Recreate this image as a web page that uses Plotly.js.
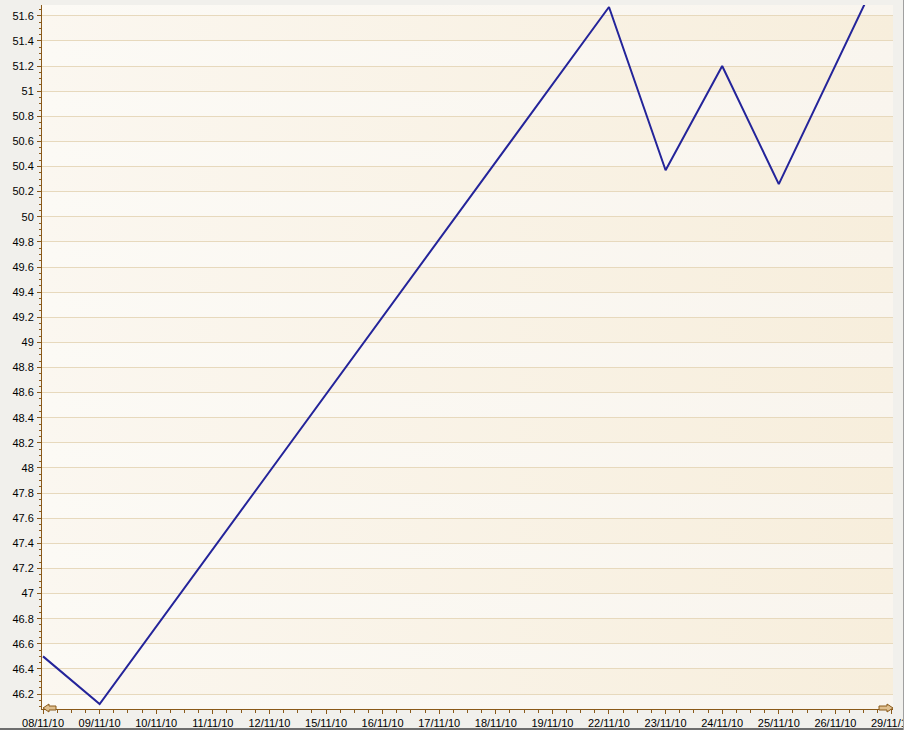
<!DOCTYPE html>
<html>
<head>
<meta charset="utf-8">
<script src="https://cdn.plot.ly/plotly-3.0.1.min.js"></script>
<style>html,body{margin:0;padding:0;background:#f1f0ec;}#chart{width:904px;height:730px;}</style>
</head>
<body>
<div id="chart"></div>
<script>
// Data
var categories = ["08/11/10","09/11/10","10/11/10","11/11/10","12/11/10","15/11/10","16/11/10","17/11/10","18/11/10","19/11/10","22/11/10","23/11/10","24/11/10","25/11/10","26/11/10","29/11/10"];
var values = [46.50, 46.12, null, null, null, null, null, null, null, null, 51.67, 50.37, 51.20, 50.26, null, 52.15];
var yTickStep = 0.2;

// Layout geometry (pixels)
var W = 904, H = 730;
var L = 42, R = 893, T = 5, B = 709;
var yMin = 46.081, yMax = 51.686;
function px(x){ return (x - L) / (R - L); }
function py(y){ return (B - y) / (B - T); }

function svgUri(c1, c2){
  var s = "<svg xmlns='http://www.w3.org/2000/svg' width='200' height='20' viewBox='0 0 200 20' preserveAspectRatio='none'>" +
    "<defs><linearGradient id='g' x1='0' y1='0' x2='1' y2='0'><stop offset='0' stop-color='" + c1 + "'/>" +
    "<stop offset='1' stop-color='" + c2 + "'/></linearGradient></defs>" +
    "<rect width='200' height='20' fill='url(#g)'/></svg>";
  return "data:image/svg+xml;charset=utf-8," + encodeURIComponent(s);
}
var lightSrc = svgUri('#fcfaf5', '#f9f5ee');
var darkSrc = svgUri('#fbf7f0', '#f7eedc');

var images = [{
  source: lightSrc, xref: 'paper', yref: 'paper', x: 0, y: 1, sizex: 1, sizey: 1,
  xanchor: 'left', yanchor: 'top', sizing: 'stretch', layer: 'below'
}];
for (var k = Math.ceil(yMin / yTickStep); k * yTickStep < yMax; k++) {
  if (k % 2 === 1) {
    var lo = k * yTickStep, hi = Math.min((k + 1) * yTickStep, yMax);
    images.push({
      source: darkSrc, xref: 'paper', yref: 'y', x: 0, y: hi, sizex: 1, sizey: hi - lo,
      xanchor: 'left', yanchor: 'top', sizing: 'stretch', layer: 'below'
    });
  }
}

var axisColor = '#8a5a1a';
var arrowFill = '#dfbf8e';
var shapes = [
  // left arrow
  {type: 'path', xref: 'paper', yref: 'paper',
   path: 'M ' + px(43) + ' ' + py(708) + ' L ' + px(49) + ' ' + py(704) + ' L ' + px(49) + ' ' + py(706) +
         ' L ' + px(56) + ' ' + py(706) + ' L ' + px(56) + ' ' + py(710) + ' L ' + px(49) + ' ' + py(710) +
         ' L ' + px(49) + ' ' + py(712) + ' Z',
   fillcolor: arrowFill, line: {color: axisColor, width: 1}},
  // right arrow
  {type: 'path', xref: 'paper', yref: 'paper',
   path: 'M ' + px(893) + ' ' + py(708) + ' L ' + px(887) + ' ' + py(704) + ' L ' + px(887) + ' ' + py(706) +
         ' L ' + px(879) + ' ' + py(706) + ' L ' + px(879) + ' ' + py(710) + ' L ' + px(887) + ' ' + py(710) +
         ' L ' + px(887) + ' ' + py(712) + ' Z',
   fillcolor: arrowFill, line: {color: axisColor, width: 1}},
  // outer frame bottom and right
  {type: 'line', xref: 'paper', yref: 'paper', x0: px(0), x1: px(904), y0: py(729), y1: py(729),
   line: {color: '#6e6e6e', width: 2}},
  {type: 'line', xref: 'paper', yref: 'paper', x0: px(903.5), x1: px(903.5), y0: py(0), y1: py(730),
   line: {color: '#a0a0a0', width: 1}}
];

var trace = {
  type: 'scatter', mode: 'lines',
  x: categories.map(function(_, i){ return i; }),
  y: values,
  connectgaps: true,
  line: {color: '#24249a', width: 2},
  hoverinfo: 'skip'
};

var layout = {
  width: W, height: H,
  margin: {l: L, r: W - R, t: T, b: H - B, pad: 0},
  paper_bgcolor: '#f1f0ec',
  plot_bgcolor: 'rgba(0,0,0,0)',
  showlegend: false,
  font: {family: 'Liberation Sans, Arial, sans-serif', size: 11, color: '#000'},
  xaxis: {
    type: 'linear',
    range: [-0.018, categories.length - 1 + 0.018],
    tickvals: categories.map(function(_, i){ return i; }),
    ticktext: categories,
    ticks: 'outside', ticklen: 4, tickcolor: axisColor, tickwidth: 1,
    minor: {dtick: 0.25, tick0: 0, ticks: 'outside', ticklen: 3, tickcolor: axisColor, showgrid: false},
    showgrid: false, zeroline: false,
    showline: true, linecolor: axisColor, linewidth: 1,
    ticklabeloverflow: 'allow',
    tickfont: {family: 'Liberation Sans, Arial, sans-serif', size: 11, color: '#000'},
    fixedrange: true
  },
  yaxis: {
    range: [yMin, yMax],
    tick0: 46.2, dtick: yTickStep,
    ticks: 'outside', ticklen: 4, tickcolor: axisColor, tickwidth: 1,
    minor: {dtick: 0.05, tick0: 46.2, ticks: 'outside', ticklen: 2, tickcolor: axisColor, showgrid: false},
    showgrid: true, gridcolor: '#e7d9bd', gridwidth: 1,
    zeroline: false, showline: true, linecolor: axisColor, linewidth: 1,
    tickfont: {family: 'Liberation Sans, Arial, sans-serif', size: 11, color: '#000'},
    ticklabelstandoff: 1,
    fixedrange: true
  },
  images: images,
  shapes: shapes
};

Plotly.newPlot('chart', [trace], layout, {staticPlot: true, displayModeBar: false});
</script>
</body>
</html>
